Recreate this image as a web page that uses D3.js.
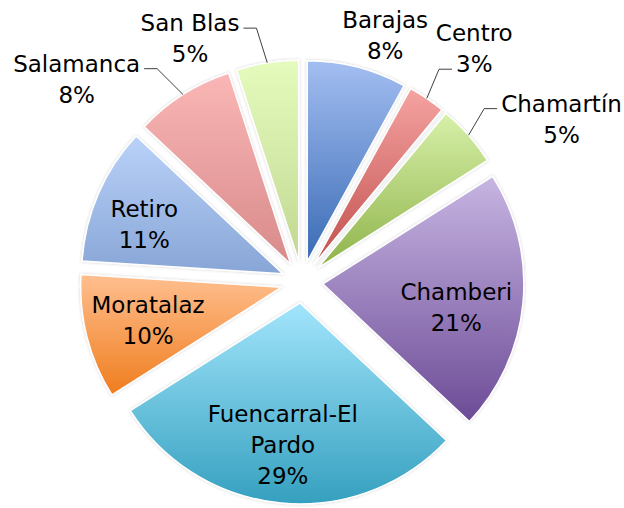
<!DOCTYPE html>
<html>
<head>
<meta charset="utf-8">
<script src="https://cdn.jsdelivr.net/npm/d3@7"></script>
<style>
  body { margin: 0; background: #fff; }
  svg text { font-family: "DejaVu Sans", Verdana, sans-serif; font-size: 23px; fill: #000; }
</style>
</head>
<body>
<div id="chart"></div>
<script>
// districts, clockwise from 12 o'clock
const categories = ["Barajas", "Centro", "Chamartín", "Chamberi", "Fuencarral-El Pardo",
                    "Moratalaz", "Retiro", "Salamanca", "San Blas"];
const shares = [8, 3, 5, 21, 29, 10, 11, 8, 5];

// gradient stops per slice (top -> bottom)
const colorTop    = ["#a3bef1", "#f5a3a2", "#d7f0a9", "#c7b5e2", "#a2e5fc", "#ffbf8f", "#bad2f9", "#fab6b6", "#e5fbbd"];
const colorBottom = ["#3a6bb5", "#c0504d", "#8fb34a", "#6c4b96", "#35a0bf", "#ef7d1e", "#87a5d6", "#d88a8a", "#c1d892"];

// labels Excel put outside the slices, and the small drags applied to them
const outsideLabels = ["Barajas", "Centro", "Chamartín", "Salamanca", "San Blas"];
const labelNudge = {
  "Barajas": [18, 7], "Centro": [25, -17], "Chamartín": [63, 10], "Salamanca": [-85, 18], "San Blas": [-71, 15],
  "Chamberi": [-6, 10], "Fuencarral-El Pardo": [-4, 2], "Moratalaz": [2, -2], "Retiro": [-10, 6]
};
// which text line the leader line attaches to
const leaderLine = { "Centro": 1, "Chamartín": 0, "Salamanca": 0, "San Blas": 0 };

const width = 624, height = 508;
const cx = 302, cy = 282, radius = 201, explode = 21;
const lineH = 31;

const svg = d3.select("#chart").append("svg")
  .attr("width", width)
  .attr("height", height);

const defs = svg.append("defs");

const filter = defs.append("filter")
  .attr("id", "shadow")
  .attr("x", "-20%").attr("y", "-20%")
  .attr("width", "140%").attr("height", "140%");
filter.append("feDropShadow")
  .attr("dx", 0).attr("dy", 0)
  .attr("stdDeviation", 1.8)
  .attr("flood-color", "#000")
  .attr("flood-opacity", 0.2);

categories.forEach((c, i) => {
  let g = defs.append("linearGradient")
    .attr("id", "grad" + i)
    .attr("x1", 0).attr("y1", 0).attr("x2", 0).attr("y2", 1);
  g.append("stop").attr("offset", "0%").attr("stop-color", colorTop[i]);
  g.append("stop").attr("offset", "100%").attr("stop-color", colorBottom[i]);
});

const pie = d3.pie().sort(null).value(d => d);
const arcs = pie(shares);

const arc = d3.arc().innerRadius(0).outerRadius(radius);

const chart = svg.append("g")
  .attr("transform", "translate(" + cx + "," + cy + ")");

// slices
arcs.forEach((d, i) => {
  let mid = (d.startAngle + d.endAngle) / 2;
  let ux = Math.sin(mid), uy = -Math.cos(mid);
  chart.append("path")
    .attr("d", arc(d))
    .attr("transform", "translate(" + (explode * ux) + "," + (explode * uy) + ")")
    .attr("fill", "url(#grad" + i + ")")
    .attr("stroke", "#fff")
    .attr("stroke-width", 1.5)
    .attr("filter", "url(#shadow)");
});

// labels
const labelLayer = chart.append("g");
const measure = labelLayer.append("text").attr("visibility", "hidden");

arcs.forEach((d, i) => {
  let name = categories[i];
  let mid = (d.startAngle + d.endAngle) / 2;
  let ux = Math.sin(mid), uy = -Math.cos(mid);
  let sx = explode * ux, sy = explode * uy;   // slice origin after explosion
  let outside = outsideLabels.includes(name);

  // wrap long names
  measure.text(name);
  let lines = measure.node().getComputedTextLength() > 160 && name.includes(" ")
    ? [name.slice(0, name.lastIndexOf(" ")), name.slice(name.lastIndexOf(" ") + 1)]
    : [name];
  lines.push(shares[i] + "%");

  let r = outside ? radius + 40 : 140;
  let nudge = labelNudge[name] || [0, 0];
  let lx = sx + ux * r + nudge[0];
  let ly = sy + uy * r + nudge[1];
  let base = ly - (lines.length - 1) * lineH / 2 + 8.4;

  let text = labelLayer.append("text").attr("text-anchor", "middle");
  let spans = lines.map((t, k) => text.append("tspan")
    .attr("x", lx)
    .attr("y", base + k * lineH)
    .text(t));

  if (leaderLine[name] !== undefined) {
    let k = leaderLine[name];
    let len = spans[k].node().getComputedTextLength();
    let side = ux < 0 ? 1 : -1;             // label left of slice -> attach to right edge
    let ex = lx + side * (len / 2 + 4);
    let ey = base + k * lineH - 3;
    let px = sx + ux * radius, py = sy + uy * radius;
    labelLayer.append("path")
      .attr("d", d3.line()([[ex, ey], [ex + side * 13, ey], [px, py]]))
      .attr("fill", "none")
      .attr("stroke", "#404040")
      .attr("stroke-width", 1);
  }
});
measure.remove();
</script>
</body>
</html>
